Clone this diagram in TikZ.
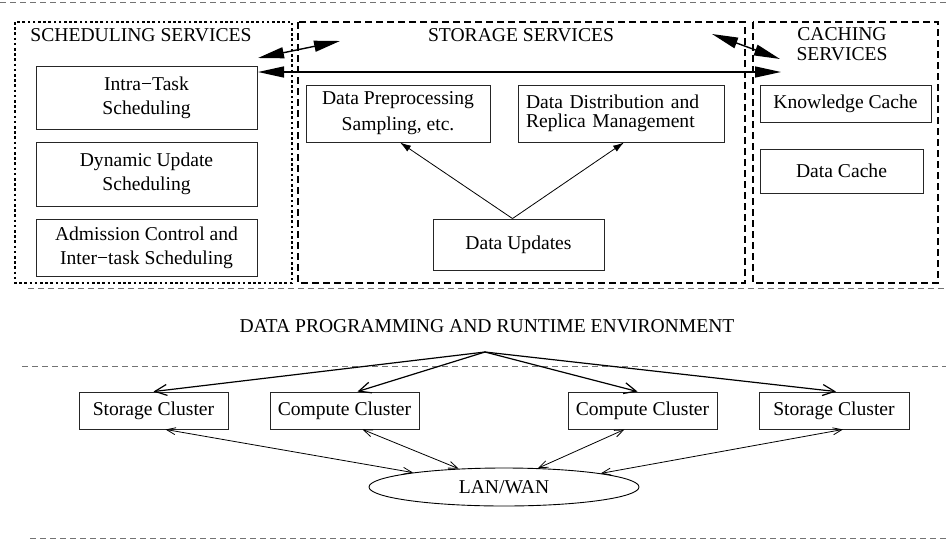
\documentclass[tikz,border=0pt]{standalone}
\usepackage{fontspec}
\setmainfont{Liberation Serif}
\usetikzlibrary{shapes}
\usetikzlibrary{arrows.meta}
\tikzset{
  treenode/.style = {align=center, inner sep=0pt, text centered,
    font=\fontsize{19.6}{24}\selectfont},
  svc_box/.style = {treenode, rectangle, draw=black!85, line width=0.9pt},% boite de service
  group_dotted/.style = {draw=black, line width=2.6pt, dash pattern=on 2.6pt off 2.6pt},
  group_dashed/.style = {draw=black, line width=2.6pt, dash pattern=on 7pt off 4pt},
  sep_line/.style = {draw=black!55, line width=0.9pt, dash pattern=on 6pt off 4pt},
  big_arrow/.style = {line width=1.4pt,
    {Triangle[length=26pt,width=11pt]}-{Triangle[length=26pt,width=11pt]}},
  env_arrow/.style = {line width=1.2pt, -{Straight Barb[length=12pt,width=11pt]}},
  net_arrow/.style = {line width=0.8pt,
    {Straight Barb[length=9pt,width=7pt]}-{Straight Barb[length=9pt,width=7pt]}},
  upd_arrow/.style = {line width=0.8pt, -{Latex[length=11pt,width=7pt]}}
}
\begin{document}
\begin{tikzpicture}[x=1pt, y=-1pt]
  \useasboundingbox (0,0) rectangle (946,542);
  % lignes de separation
  \draw [sep_line] (0,2) -- (946,2);
  \draw [sep_line] (28,288) -- (946,288);
  \draw [sep_line] (22,366) -- (946,366);
  \draw [sep_line] (30,538) -- (946,538);
  % groupes de services
  \draw [group_dotted] (15,22) rectangle (292,283);
  \draw [group_dashed] (298,22) rectangle (745,283);
  \draw [group_dashed] (753,22) rectangle (938,283);
  \node [treenode] (sched_t) at (141,35) {SCHEDULING SERVICES};
  \node [treenode] (stor_t) at (521,35) {STORAGE SERVICES};
  \node [treenode, font=\fontsize{19.6}{20}\selectfont] (cache_t) at (842,44) {CACHING\\SERVICES};
  % scheduling
  \node [svc_box, minimum width=221, minimum height=63] (intra) at (146.5,97.5) {Intra−Task\\Scheduling};
  \node [svc_box, minimum width=221, minimum height=64] (dyn) at (146.5,174) {Dynamic Update\\Scheduling};
  \node [svc_box, minimum width=221, minimum height=57] (adm) at (146.5,247.5) {Admission Control and\\Inter−task Scheduling};
  % storage
  \node [svc_box, minimum width=184, minimum height=57,
    font=\fontsize{19.6}{26}\selectfont] (prep) at (398,113.5) {Data Preprocessing\\Sampling, etc.};
  \node [svc_box, minimum width=206, minimum height=57, text width=190, align=left,
    font=\fontsize{19.6}{19}\selectfont] (dist) at (621,113.5) {Data Distribution and\\Replica Management};
  \node [svc_box, minimum width=171, minimum height=51] (upd) at (518.5,244.5) {Data Updates};
  % caching
  \node [svc_box, minimum width=171, minimum height=37] (know) at (845.5,103.5) {Knowledge Cache};
  \node [svc_box, minimum width=163, minimum height=44] (dcache) at (841.5,171) {Data Cache};
  % fleches entre services
  \coordinate (s1) at (258,58);
  \coordinate (s2) at (340,41);
  \coordinate (h1) at (258,72);
  \coordinate (h2) at (781,72);
  \coordinate (c1) at (712,34);
  \coordinate (c2) at (780,59);
  \draw [big_arrow] (s1) -- (s2);
  \draw [big_arrow] (h1) -- (h2);
  \draw [big_arrow] (c1) -- (c2);
  \draw [upd_arrow] ([xshift=-6pt]upd.north) -- ([xshift=2pt]prep.south);
  \draw [upd_arrow] ([xshift=-6pt]upd.north) -- ([xshift=3pt]dist.south);
  % environnement d'execution
  \node [treenode] (env_t) at (487,326.5) {DATA PROGRAMMING AND RUNTIME ENVIRONMENT};
  \coordinate (env) at (485,352);
  \node [svc_box, minimum width=149, minimum height=37] (sc1) at (153.5,410.5) {Storage Cluster};
  \node [svc_box, minimum width=149, minimum height=37] (cc1) at (344.5,410.5) {Compute Cluster};
  \node [svc_box, minimum width=149, minimum height=37] (cc2) at (642.5,410.5) {Compute Cluster};
  \node [svc_box, minimum width=150, minimum height=37] (sc2) at (834,410.5) {Storage Cluster};
  \node [treenode, ellipse, draw=black, line width=0.9pt,
    minimum width=270, minimum height=38] (lan) at (504,487) {LAN/WAN};
  \draw [env_arrow] (env) -- (sc1.north);
  \draw [env_arrow] (env) -- ([xshift=13pt]cc1.north);
  \draw [env_arrow] (env) -- ([xshift=-5pt]cc2.north);
  \draw [env_arrow] (env) -- ([xshift=2pt]sc2.north);
  \draw [net_arrow] ([xshift=12pt]sc1.south) -- (lan.171);
  \draw [net_arrow] ([xshift=18pt]cc1.south) -- (lan.158);
  \draw [net_arrow] ([xshift=-18pt]cc2.south) -- (lan.29);
  \draw [net_arrow] ([xshift=9pt]sc2.south) -- (lan.8);
\end{tikzpicture}
\end{document}
